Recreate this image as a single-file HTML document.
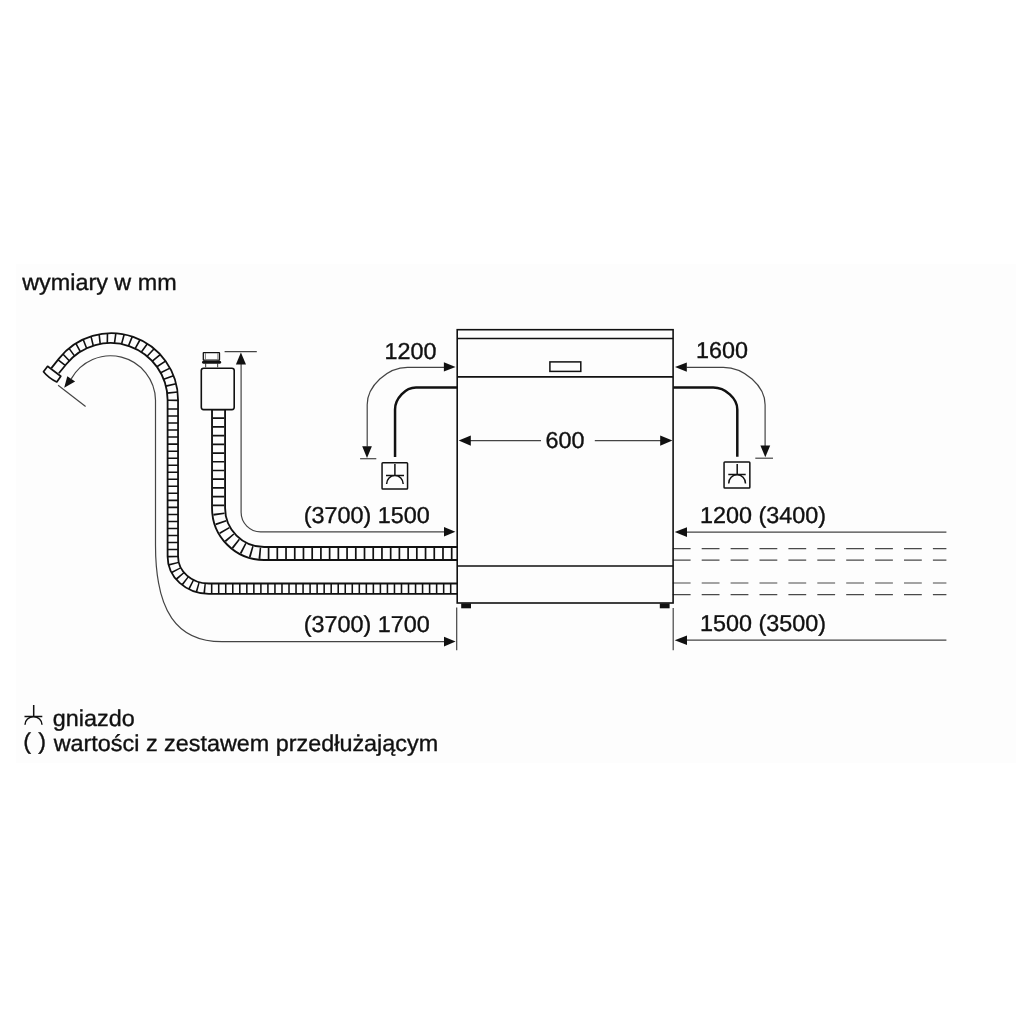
<!DOCTYPE html>
<html><head><meta charset="utf-8">
<style>
html,body{margin:0;padding:0;background:#fff;}
body{width:1030px;height:1030px;overflow:hidden;font-family:"Liberation Sans",sans-serif;}
svg{display:block;}
text{font-family:"Liberation Sans",sans-serif;font-size:23px;text-rendering:geometricPrecision;fill:#111;stroke:#111;stroke-width:0.36px;}
.thin{fill:none;stroke:#444;stroke-width:1.2;}
.ln{fill:none;stroke:#111;stroke-width:1.6;}
.cable{fill:none;stroke:#111;stroke-width:2.5;}
.ah{fill:#111;stroke:none;}
.dash{fill:none;stroke:#4a4a4a;stroke-width:1.2;stroke-dasharray:17.8 11.1;}
</style></head>
<body>
<svg width="1030" height="1030" viewBox="0 0 1030 1030">
<rect x="0" y="0" width="1030" height="1030" fill="#ffffff"/>
<rect x="16" y="264" width="1000" height="499" fill="#fdfdfd"/>

<!-- texts -->
<g style="will-change:transform;filter:grayscale(1)">
<text transform="translate(22.2 290.2) scale(1.016 1)">wymiary w mm</text>
<text transform="translate(384.6 359.0) scale(1.016 1)">1200</text>
<text transform="translate(696.0 358.2) scale(1.016 1)">1600</text>
<text transform="translate(545.6 448.4) scale(1.016 1)">600</text>
<text transform="translate(303.8 523.4) scale(1.016 1)">(3700) 1500</text>
<text transform="translate(303.8 631.7) scale(1.016 1)">(3700) 1700</text>
<text transform="translate(700.0 523.1) scale(1.016 1)">1200 (3400)</text>
<text transform="translate(700.0 630.5) scale(1.016 1)">1500 (3500)</text>
<text transform="translate(52.8 725.9) scale(1.016 1)">gniazdo</text>
<text transform="translate(53.7 750.7) scale(1.016 1)">wartości z zestawem przedłużającym</text>
<text transform="translate(23.2 749.4) scale(1.016 1)">(</text>
<text transform="translate(38.2 749.4) scale(1.016 1)">)</text>
</g>

<!-- dashed lines right -->
<path class="dash" d="M672.8 548.7H946.4M672.8 560.1H946.4M672.8 583H946.4M672.8 594.7H946.4"/>

<!-- thin dimension lines -->
<g class="thin">
<!-- drain hose dimension -->
<path d="M71.2 378.9A45 45 0 0 1 155.5 400V545C155.5 611 176.6 641.7 222 641.7H445"/>
<path d="M58.1 385.2L85.6 406.4"/>
<!-- inlet dimension -->
<path d="M224.6 351.6H256.8"/>
<path d="M241.1 364V512.3A19.5 19.5 0 0 0 260.6 531.8H445"/>
<!-- 1200 curve -->
<path d="M444.5 367.3H407.5C387.35 367.3 367.2 386 367.2 404.7V446.5"/>
<path d="M360.1 458.7H376.3"/>
<!-- 1600 curve -->
<path d="M686.5 367.3H723.3C744.2 367.3 765.1 386 765.1 404.7V446"/>
<path d="M755.3 458.2H773"/>
<!-- 600 line -->
<path d="M470 440.6H541M594.8 440.6H661"/>
<!-- right lines -->
<path d="M686 532.1H946.4M686 640.2H946.4"/>
<!-- vertical extension lines -->
<path d="M456.7 607.5V650.3M673.2 608V650.2"/>
</g>

<!-- arrowheads -->
<g class="ah">
<path d="M64.2 387.7L67.3 376.2L75.1 381.6Z"/>
<path d="M240.9 352.6L235.9 364.5H246Z"/>
<path d="M455.6 366.9L443.9 362.2V371.6Z"/>
<path d="M367 457.9L362.2 446.3H371.9Z"/>
<path d="M675 367.1L686.8 362.5V371.8Z"/>
<path d="M765.3 457.2L760.4 445.6H770.2Z"/>
<path d="M458.7 440.6L470.8 435.6V445.7Z"/>
<path d="M672.4 440.6L660.2 435.6V445.7Z"/>
<path d="M455.4 531.8L444 527.1V536.5Z"/>
<path d="M455.6 641.6L444 636.7V646.5Z"/>
<path d="M674.7 532.1L687 527.3V536.9Z"/>
<path d="M674.7 640.2L687 635.4V645Z"/>
</g>

<!-- drain hose -->
<g fill="none" stroke="#111">
<path d="M51.37 368.18L58.93 358.61A66.75 66.75 0 0 1 178.05 400V556.40A30.80 27.10 0 0 0 208.83 583.50H458" stroke-width="1.8"/>
<path d="M58.85 373.26L66.43 363.97A57.0 57.0 0 0 1 167.60 400V556.40A41.20 37.50 0 0 0 208.83 593.90H458" stroke-width="1.8"/>
<path d="M58.1 359.9L64.9 365.2M62.88 354.05L69.25 360.76M69.02 348.35L74.50 355.89M75.83 343.45L80.31 351.71M83.20 339.45L86.60 348.30M91.01 336.41L93.27 345.70M99.14 334.37L100.21 343.95M107.46 333.36L107.32 343.09M115.84 333.40L114.48 343.13M124.15 334.50L121.57 344.07M132.26 336.63L128.50 345.88M140.04 339.75L135.14 348.55M147.36 343.83L141.39 352.03M154.12 348.79L147.16 356.27M160.20 354.56L152.35 361.20M165.51 361.05L156.89 366.74M169.96 368.15L160.69 372.80M173.49 375.75L163.71 379.29M176.04 383.74L165.88 386.11M177.57 391.98L167.19 393.15M178.05 400.35L167.60 400.30" stroke-width="1.6"/>
<path d="M172.83 405V556.40A36 32.3 0 0 0 208.83 588.7H458" stroke-width="10.4" stroke-dasharray="1.55 5.48" stroke-dashoffset="-3.2"/>
</g>
<!-- drain cap -->
<path d="M47.6 366.3L60.8 376.2L56.8 382Q49 378.5 43.5 371.8Z" fill="#fdfdfd" stroke="#111" stroke-width="1.7" stroke-linejoin="round"/>

<!-- inlet hose -->
<g fill="none">
<path d="M218.55 408.3V507.9A45.6 45.6 0 0 0 264.15 553.5H457.5" stroke="#111" stroke-width="14.9"/>
<path d="M218.55 408.3V507.9A45.6 45.6 0 0 0 264.15 553.5H457.5" stroke="#fdfdfd" stroke-width="11.2"/>
<path d="M218.55 408.3V507.9A45.6 45.6 0 0 0 264.15 553.5H457.5" stroke="#111" stroke-width="11.2" stroke-dasharray="1.7 7.02" stroke-dashoffset="-0.3"/>
</g>
<!-- aquastop -->
<rect x="201.3" y="368.3" width="32.9" height="41.3" rx="2.3" fill="#fdfdfd" stroke="#111" stroke-width="1.6"/>
<path d="M205.6 363.5V367.6M217.6 363.5V367.6" stroke="#555" stroke-width="1.2" fill="none"/>
<path d="M203.8 360.4Q211.6 361.4 219.4 360.4Q221.3 361 221.3 362.2Q221.3 363.4 219.8 363.8H203.4Q201.9 363.4 201.9 362.2Q201.9 361 203.8 360.4Z" fill="#111"/>
<rect x="203.3" y="352.7" width="16.2" height="7.4" rx="0.4" fill="#fdfdfd" stroke="#111" stroke-width="1.3"/>
<path d="M205.4 353V360M217.9 353V360" stroke="#777" stroke-width="1" fill="none"/>

<!-- cables -->
<path class="cable" d="M457.2 387.6H416C405.5 387.6 395.05 398.5 395.05 409.4V457.1"/>
<path class="cable" d="M673.2 387.6H713.2C725.25 387.6 737.3 398.5 737.3 409.4V456.7"/>

<!-- sockets -->
<g fill="none" stroke="#111" stroke-width="1.5">
<rect x="382.05" y="462.75" width="25.5" height="26.2" rx="0.8"/>
<path d="M394.9 464.1V475.5M386 475.5H404M386.6 484A8.3 8.5 0 0 1 403.2 484"/>
<rect x="724.05" y="461.95" width="25.8" height="26.1" rx="0.8"/>
<path d="M737.2 464.1V474.5M728.3 474.5H745.7M728.7 483.5A8.4 8.7 0 0 1 745.5 483.5"/>
<!-- legend symbol -->
<path d="M33.7 704.9V716.6M24.5 716.6H42.3M25 724.8A8.5 8.1 0 0 1 42 724.8"/>
</g>

<!-- appliance -->
<g class="ln">
<rect x="457.2" y="329.7" width="215.9" height="273.3" fill="none"/>
<path d="M457.2 338.5H673.1M457.2 376.9H673.1M457.2 566H673.1"/>
<rect x="549.9" y="361.9" width="30.9" height="9.5" stroke-width="1.5" fill="none"/>
</g>
<rect x="461.2" y="603.4" width="9.8" height="4.9" fill="#111"/>
<rect x="659.8" y="603.4" width="9.8" height="4.9" fill="#111"/>
</svg>
</body></html>
